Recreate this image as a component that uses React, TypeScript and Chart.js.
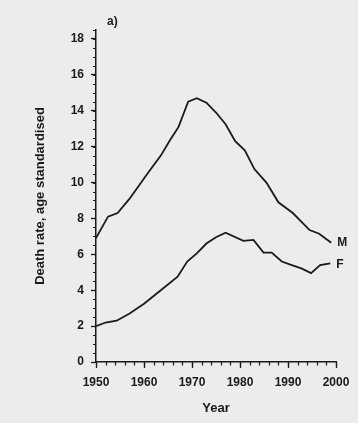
import React, { useEffect, useRef } from "react";
import { Chart, registerables } from "chart.js";

Chart.register(...registerables);

// ---- data ----
const maleYears = [1950, 1952.5, 1954.5, 1957, 1959, 1961, 1963.5, 1965.5, 1967.2, 1969.2, 1971, 1973, 1975, 1977, 1979, 1981, 1983, 1985.5, 1988, 1991, 1994.5, 1996.5, 1999];
const maleRates = [6.9, 8.1, 8.3, 9.1, 9.85, 10.6, 11.5, 12.4, 13.1, 14.5, 14.7, 14.45, 13.9, 13.25, 12.3, 11.8, 10.75, 10.0, 8.9, 8.3, 7.35, 7.15, 6.65];
const femaleYears = [1950, 1952, 1954.3, 1957, 1960, 1963.5, 1967, 1969, 1971, 1973, 1975, 1977, 1980.7, 1982.8, 1984.9, 1986.6, 1988.7, 1990.8, 1992.9, 1994.8, 1996.7, 1998.8];
const femaleRates = [2.0, 2.2, 2.3, 2.7, 3.25, 4.0, 4.75, 5.6, 6.05, 6.6, 6.95, 7.2, 6.75, 6.8, 6.1, 6.1, 5.6, 5.4, 5.2, 4.95, 5.4, 5.5];

const xTickValues = [1950, 1960, 1970, 1980, 1990, 2000];
const yTickValues = [0, 2, 4, 6, 8, 10, 12, 14, 16, 18];
const xMinorStep = 2;
const yMinorStep = 0.5;
const seriesLabels = ["M", "F"];
const panelLabel = "a)";
const xTitle = "Year";
const yTitle = "Death rate, age standardised";

const INK = "#1a1a1a";
const FONT = "'Liberation Sans', Arial, Helvetica, sans-serif";

const decorPlugin = {
  id: "decor",
  beforeDraw(chart: any) {
    const { ctx, width, height } = chart;
    ctx.save();
    ctx.fillStyle = "#ececec";
    ctx.fillRect(0, 0, width, height);
    ctx.restore();
  },
  afterDraw(chart: any) {
    const { ctx } = chart;
    const xs = chart.scales.x;
    const ys = chart.scales.y;
    ctx.save();
    ctx.strokeStyle = INK;
    ctx.lineWidth = 1.2;
    // minor ticks
    ctx.beginPath();
    for (let v = ys.min; v <= ys.max + 1e-9; v += yMinorStep) {
      const p = Math.round(ys.getPixelForValue(v)) + 0.5;
      ctx.moveTo(xs.left, p);
      ctx.lineTo(xs.left - 3, p);
    }
    for (let v = xs.min; v <= xs.max + 1e-9; v += xMinorStep) {
      const p = Math.round(xs.getPixelForValue(v)) + 0.5;
      ctx.moveTo(p, ys.bottom);
      ctx.lineTo(p, ys.bottom + 3.5);
    }
    ctx.stroke();
    // series end labels
    ctx.fillStyle = INK;
    ctx.font = `bold 12px ${FONT}`;
    ctx.textAlign = "left";
    ctx.textBaseline = "middle";
    chart.data.datasets.forEach((ds: any, i: number) => {
      const last = ds.data[ds.data.length - 1];
      const px = xs.getPixelForValue(last.x) + 6;
      const py = ys.getPixelForValue(last.y) + (i === 1 ? 1.5 : 0);
      ctx.fillText(seriesLabels[i], px, py);
    });
    // panel label
    ctx.font = `bold 12px ${FONT}`;
    ctx.textBaseline = "alphabetic";
    ctx.fillText(panelLabel, xs.left + 11, ys.top - 5);
    ctx.restore();
  },
};

export default function App() {
  const ref = useRef<HTMLCanvasElement>(null);

  useEffect(() => {
    if (!ref.current) return;
    const chart = new Chart(ref.current, {
      type: "line",
      data: {
        datasets: [
          {
            label: "M",
            data: maleYears.map((x, i) => ({ x, y: maleRates[i] })),
            borderColor: INK,
            borderWidth: 1.8,
            pointRadius: 0,
            tension: 0,
            fill: false,
          },
          {
            label: "F",
            data: femaleYears.map((x, i) => ({ x, y: femaleRates[i] })),
            borderColor: INK,
            borderWidth: 1.8,
            pointRadius: 0,
            tension: 0,
            fill: false,
          },
        ],
      },
      options: {
        responsive: false,
        animation: false,
        events: [],
        layout: { padding: { left: 0, right: 22, top: 30, bottom: 0 } },
        plugins: {
          legend: { display: false },
          tooltip: { enabled: false },
        },
        scales: {
          x: {
            type: "linear",
            min: 1950,
            max: 2000,
            afterBuildTicks: (s: any) => {
              s.ticks = xTickValues.map((v) => ({ value: v }));
            },
            afterFit: (s: any) => {
              s.height = 61;
            },
            ticks: {
              color: INK,
              font: { family: FONT, size: 12, weight: "bold" },
              padding: 7,
              maxRotation: 0,
              autoSkip: false,
              callback: (v: any) => String(v),
            },
            grid: {
              display: true,
              drawOnChartArea: false,
              tickLength: 6,
              tickColor: INK,
              tickWidth: 1.3,
            },
            border: { display: true, color: INK, width: 1.5 },
            title: {
              display: true,
              text: xTitle,
              color: INK,
              font: { family: FONT, size: 13, weight: "bold" },
              padding: { top: 7, bottom: 7 },
            },
          },
          y: {
            type: "linear",
            min: 0,
            max: 18.5,
            afterBuildTicks: (s: any) => {
              s.ticks = yTickValues.map((v) => ({ value: v }));
            },
            afterFit: (s: any) => {
              s.width = 96;
            },
            ticks: {
              color: INK,
              font: { family: FONT, size: 12, weight: "bold" },
              padding: 7,
              callback: (v: any) => String(v),
            },
            grid: {
              display: true,
              drawOnChartArea: false,
              tickLength: 5,
              tickColor: INK,
              tickWidth: 1.3,
            },
            border: { display: true, color: INK, width: 1.5 },
            title: {
              display: true,
              text: yTitle,
              color: INK,
              font: { family: FONT, size: 13, weight: "bold" },
              padding: { top: 33, bottom: 0 },
            },
          },
        },
      },
      plugins: [decorPlugin],
    } as any);
    return () => chart.destroy();
  }, []);

  return (
    <div style={{ position: "absolute", left: 0, top: 0, width: 358, height: 423 }}>
      <canvas ref={ref} width={358} height={423} style={{ display: "block" }} />
    </div>
  );
}
